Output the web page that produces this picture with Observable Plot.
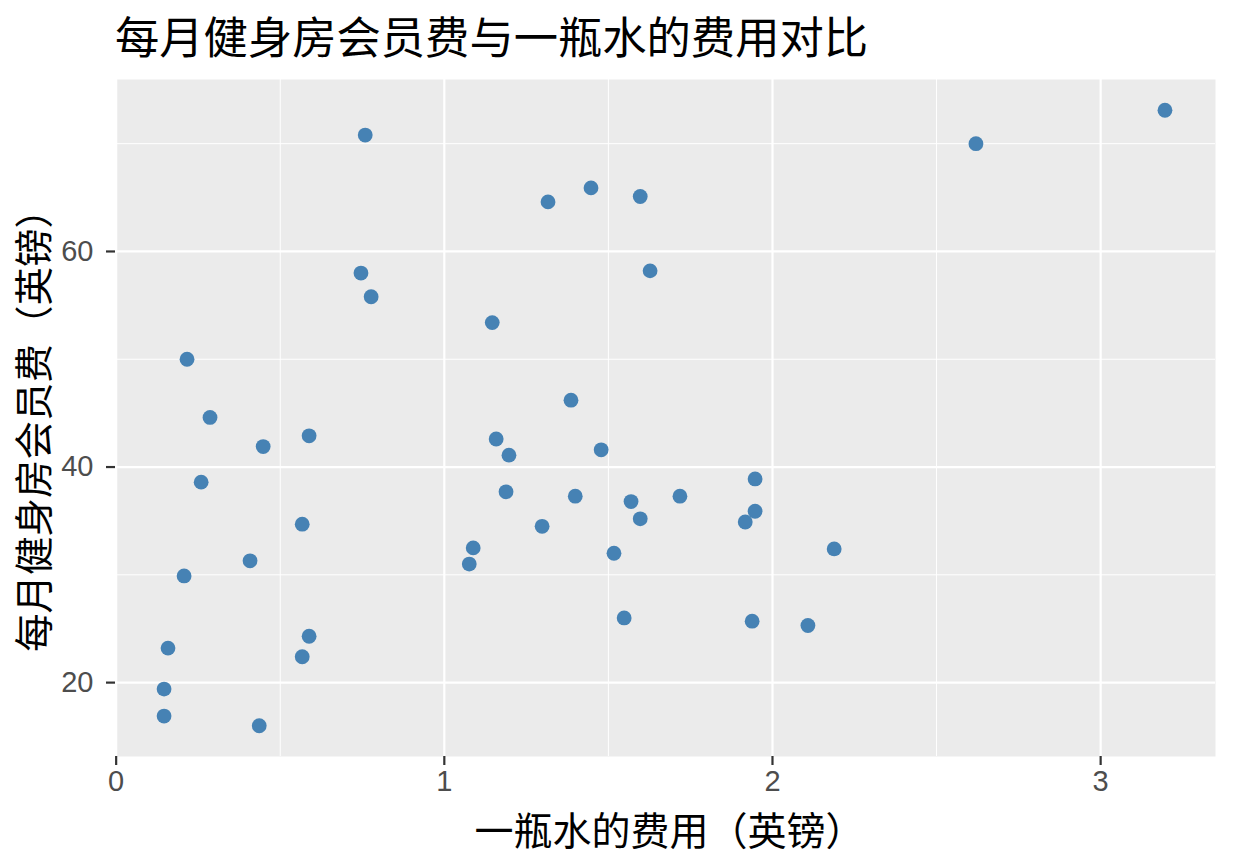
<!DOCTYPE html>
<html>
<head>
<meta charset="utf-8">
<script src="https://cdn.jsdelivr.net/npm/d3@7"></script>
<script src="https://cdn.jsdelivr.net/npm/@observablehq/plot@0.6"></script>
<style>
  html, body { margin: 0; padding: 0; background: #ffffff; }
  body { width: 1234px; height: 864px; overflow: hidden; font-family: "Noto Sans CJK SC", "Noto Sans", sans-serif; }
  #title { height: 70px; line-height: 70px; font-size: 44.3px; padding-left: 115px; color: #000; white-space: nowrap; }
</style>
</head>
<body>
<div id="title">每月健身房会员费与一瓶水的费用对比</div>
<div id="chart"></div>
<script>
const titleText = "每月健身房会员费与一瓶水的费用对比";
const xLabel = "一瓶水的费用（英镑）";
const yLabel = "每月健身房会员费（英镑）";

const waterCost = [0.759, 2.620, 3.196, 1.447, 1.316, 1.597, 1.627, 0.746, 0.777, 1.146,
  0.216, 0.286, 1.386, 0.448, 0.588, 1.158, 1.197, 1.478, 0.259, 1.188,
  1.399, 1.569, 1.718, 1.947, 1.947, 1.917, 1.597, 0.567, 1.298, 1.088,
  1.076, 1.517, 2.188, 0.408, 0.207, 1.548, 1.938, 2.108, 0.588, 0.567,
  0.158, 0.146, 0.146, 0.436];
const gymFee = [70.8, 70.0, 73.1, 65.9, 64.6, 65.1, 58.2, 58.0, 55.8, 53.4,
  50.0, 44.6, 46.2, 41.9, 42.9, 42.6, 41.1, 41.6, 38.6, 37.7,
  37.3, 36.8, 37.3, 38.9, 35.9, 34.9, 35.2, 34.7, 34.5, 32.5,
  31.0, 32.0, 32.4, 31.3, 29.9, 26.0, 25.7, 25.3, 24.3, 22.4,
  23.2, 19.4, 16.9, 16.0];

const xMajor = [0, 1, 2, 3];
const xMinor = [0.5, 1.5, 2.5];
const yMajor = [20, 40, 60];
const yMinor = [30, 50, 70];
const xDomain = [-0.002, 3.35];

const data = waterCost.map((w, i) => ({water: w, fee: gymFee[i]}));

function expand(ext) {
  const pad = (ext[1] - ext[0]) * 0.05;
  return [ext[0] - pad, ext[1] + pad];
}
const yDomain = expand(d3.extent(gymFee));

const W = 1234, H = 864 - 70;
const tickFont = "Liberation Sans, Arial, sans-serif";

const chart = Plot.plot({
  width: W,
  height: H,
  marginTop: 9,
  marginLeft: 115,
  marginRight: 19,
  marginBottom: H - 686,
  style: { fontFamily: "Noto Sans CJK SC, sans-serif", background: "#ffffff", overflow: "visible" },
  x: { domain: xDomain, label: null },
  y: { domain: yDomain, label: null },
  marks: [
    Plot.frame({ fill: "#EBEBEB", stroke: null }),
    Plot.ruleX(xMinor, { stroke: "#ffffff", strokeWidth: 1 }),
    Plot.ruleY(yMinor, { stroke: "#ffffff", strokeWidth: 1 }),
    Plot.ruleX(xMajor, { stroke: "#ffffff", strokeWidth: 2.2 }),
    Plot.ruleY(yMajor, { stroke: "#ffffff", strokeWidth: 2.2 }),
    Plot.axisX({ ticks: xMajor, tickSize: 9, tickPadding: 5, strokeWidth: 2.2, stroke: "#333333", fill: "#4D4D4D", fontSize: 29, fontFamily: tickFont, label: null, tickFormat: d => String(d) }),
    Plot.axisY({ ticks: yMajor, tickSize: 9, tickPadding: 13, strokeWidth: 2.2, stroke: "#333333", fill: "#4D4D4D", fontSize: 29, fontFamily: tickFont, label: null, tickFormat: d => String(d) }),
    Plot.dot(data, { x: "water", y: "fee", r: 7.4, fill: "#4682B4", stroke: null }),
    Plot.text([xLabel], { frameAnchor: "bottom", dy: 76, dx: 4, text: d => d, fontSize: 39, fill: "#000", lineAnchor: "middle", textAnchor: "middle" }),
    Plot.text([yLabel], { frameAnchor: "left", dx: -80, dy: 3, rotate: -90, text: d => d, fontSize: 38.5, fill: "#000", lineAnchor: "middle", textAnchor: "middle" })
  ]
});
document.getElementById("chart").appendChild(chart);
</script>
</body>
</html>
